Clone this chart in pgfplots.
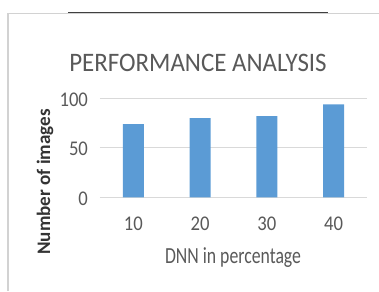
\documentclass[border=0pt]{standalone}
\usepackage{pgfplots}
\pgfplotsset{compat=1.18}
\usepackage{fontspec}
\setmainfont{Carlito}
\definecolor{barblue}{HTML}{5B9BD5}
\definecolor{gridgray}{HTML}{D9D9D9}
\definecolor{txtgray}{HTML}{595959}
\begin{document}
\begin{tikzpicture}
\path[use as bounding box] (-75pt,-70.3pt) rectangle (209.25pt,148pt);
\draw[color=gray!35, line width=0.8pt] (-69pt,-70.3pt) -- (-69pt,138.2pt) -- (209.25pt,138.2pt);
\draw[color=black!75, line width=0.9pt] (-24pt,138.5pt) -- (171pt,138.5pt);
\begin{axis}[
  at={(0,0)}, anchor=south west,
  scale only axis,
  width=200.25pt, height=74.25pt,
  xmin=-0.5, xmax=3.5, ymin=0, ymax=100,
  axis line style={draw=none},
  ymajorgrids, grid style={gridgray, line width=0.8pt},
  ytick={0,50,100}, xtick={0,1,2,3},
  xticklabels={10,20,30,40},
  major tick length=0pt,
  /pgf/number format/assume math mode=true,
  tick label style={font=\fontsize{14}{16}\selectfont, text=txtgray, yscale=1.12},
  xticklabel style={anchor=base, yshift=-22.3pt},
  yticklabel style={xshift=-5.5pt, yshift=-0.8pt},
  clip=false,
]
\addplot[ybar, bar width=15.75pt, fill=barblue, draw=none] coordinates {(0,74) (1,80) (2,82) (3,94)};
\end{axis}
\node[text=txtgray, font=\fontsize{18.7}{22}\selectfont, anchor=base, yscale=1.07] at (73.5pt,94pt) {PERFORMANCE ANALYSIS};
\node[text=txtgray, font=\fontsize{13.3}{16}\selectfont, anchor=base, yscale=1.3] at (99.75pt,-50pt) {DNN in percentage};
\node[text=black!80, font=\bfseries\fontsize{14.3}{17}\selectfont, rotate=90] at (-41.25pt,11.5pt) {Number of images};
\end{tikzpicture}
\end{document}
